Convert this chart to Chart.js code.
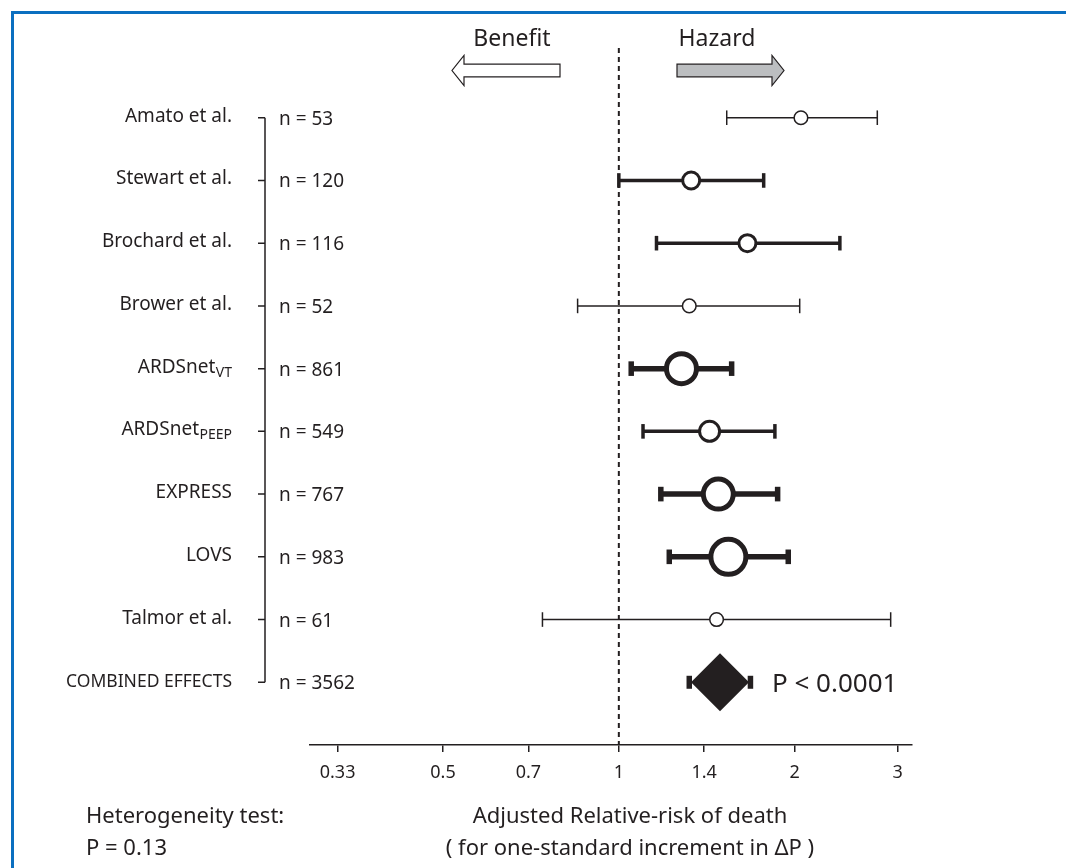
<!DOCTYPE html>
<html>
<head>
<meta charset="utf-8">
<script src="https://cdn.jsdelivr.net/npm/chart.js@4.4.1/dist/chart.umd.min.js"></script>
<style>
  html, body { margin: 0; padding: 0; background: #fff; }
  #wrap { width: 1066px; height: 868px; }
</style>
</head>
<body>
<div id="wrap"><canvas id="forestChart" width="1066" height="868"></canvas></div>
<script>
// study rows, top to bottom
const studies = ['Amato et al.', 'Stewart et al.', 'Brochard et al.', 'Brower et al.', 'ARDSnet', 'ARDSnet', 'EXPRESS', 'LOVS', 'Talmor et al.'];
const studySubs = ['', '', '', '', 'VT', 'PEEP', '', '', ''];
const sampleSizes = [53, 120, 116, 52, 861, 549, 767, 983, 61];
const riskEstimate = [2.05, 1.33, 1.66, 1.32, 1.28, 1.43, 1.48, 1.54, 1.47];
const ciLower = [1.53, 1.00, 1.16, 0.85, 1.05, 1.10, 1.18, 1.22, 0.74];
const ciUpper = [2.77, 1.77, 2.39, 2.04, 1.56, 1.85, 1.87, 1.95, 2.92];

// pooled result
const combinedLabel = 'COMBINED EFFECTS';
const combinedN = 3562;
const combinedEstimate = 1.49;
const combinedLower = 1.32;
const combinedUpper = 1.68;
const combinedP = 'P < 0.0001';

const tickValues = [0.33, 0.5, 0.7, 1, 1.4, 2, 3];
const nullEffect = 1;
const directionLabels = ['Benefit', 'Hazard'];
const heterogeneityText = ['Heterogeneity test:', 'P = 0.13'];
const axisTitle = ['Adjusted Relative-risk of death', '( for one-standard increment in \u0394P )'];

const INK = '#231f20';
const FONT = 'Noto Sans';

// marker weight grows with trial size
function styleFor(n) {
    if (n < 100) return { line: 1.5, radius: 6.8, border: 1.5 };
    if (n < 600) return { line: 3.5, radius: n > 500 ? 10 : 8.5, border: 3 };
    return { line: 5.5, radius: n > 900 ? 17.5 : 15, border: 5 };
}

const datasets = [];
studies.forEach((name, i) => {
    const s = styleFor(sampleSizes[i]);
    const row = i + 1;
    datasets.push({
        label: name + ' CI',
        data: [{ x: ciLower[i], y: row }, { x: ciUpper[i], y: row }],
        showLine: true,
        borderColor: INK,
        borderWidth: s.line,
        pointStyle: 'line',
        pointRotation: 90,
        pointRadius: 7.3,
        pointHoverRadius: 7.3,
        pointBorderWidth: s.line,
        pointBorderColor: INK,
        order: 2
    });
    datasets.push({
        label: name,
        data: [{ x: riskEstimate[i], y: row }],
        pointStyle: 'circle',
        pointRadius: s.radius,
        pointHoverRadius: s.radius,
        pointBorderWidth: s.border,
        pointBackgroundColor: '#fff',
        pointBorderColor: INK,
        order: 1
    });
});

const combinedRow = studies.length + 1;
datasets.push({
    label: 'Combined CI',
    data: [{ x: combinedLower, y: combinedRow }, { x: combinedUpper, y: combinedRow }],
    showLine: false,
    pointStyle: 'line',
    pointRotation: 90,
    pointRadius: 6.5,
    pointHoverRadius: 6.5,
    pointBorderWidth: 5.5,
    pointBorderColor: INK,
    order: 2
});
datasets.push({
    label: 'Combined',
    data: [{ x: combinedEstimate, y: combinedRow }],
    pointStyle: 'rectRot',
    pointRadius: 29,
    pointHoverRadius: 29,
    pointBorderWidth: 0,
    pointBackgroundColor: INK,
    pointBorderColor: INK,
    order: 0
});

function drawArrow(ctx, tail, tip, cy, fill) {
    const dir = Math.sign(tip - tail);
    const headBase = tip - dir * 12;
    ctx.save();
    ctx.beginPath();
    ctx.moveTo(tail, cy - 6.3);
    ctx.lineTo(headBase, cy - 6.3);
    ctx.lineTo(headBase, cy - 15);
    ctx.lineTo(tip, cy);
    ctx.lineTo(headBase, cy + 15);
    ctx.lineTo(headBase, cy + 6.3);
    ctx.lineTo(tail, cy + 6.3);
    ctx.closePath();
    ctx.fillStyle = fill;
    ctx.fill();
    ctx.lineWidth = 1.2;
    ctx.strokeStyle = INK;
    ctx.stroke();
    ctx.restore();
}

const forestDecor = {
    id: 'forestDecor',
    beforeDraw(chart) {
        const ctx = chart.ctx;
        ctx.save();
        ctx.fillStyle = '#fff';
        ctx.fillRect(0, 0, chart.width, chart.height);
        // frame
        ctx.fillStyle = '#0b6fc0';
        ctx.fillRect(11, 11, chart.width - 11, 3);
        ctx.fillRect(11, 11, 3, chart.height - 11);
        ctx.restore();
    },
    beforeDatasetsDraw(chart) {
        const ctx = chart.ctx;
        const x = chart.scales.x.getPixelForValue(nullEffect);
        ctx.save();
        ctx.strokeStyle = INK;
        ctx.lineWidth = 2;
        ctx.setLineDash([5, 4]);
        ctx.beginPath();
        ctx.moveTo(x, 48);
        ctx.lineTo(x, chart.chartArea.bottom);
        ctx.stroke();
        ctx.restore();
    },
    afterDraw(chart) {
        const ctx = chart.ctx;
        const yScale = chart.scales.y;
        ctx.save();
        ctx.fillStyle = INK;
        ctx.strokeStyle = INK;

        // study names
        ctx.textAlign = 'right';
        ctx.textBaseline = 'alphabetic';
        studies.forEach((name, i) => {
            const y = yScale.getPixelForValue(i + 1);
            let right = 232;
            if (studySubs[i]) {
                ctx.font = '14px "' + FONT + '"';
                ctx.fillText(studySubs[i], right, y + 8);
                right -= ctx.measureText(studySubs[i]).width + 0.5;
            }
            ctx.font = '19px "' + FONT + '"';
            ctx.fillText(name, right, y + 4);
        });
        const yc = yScale.getPixelForValue(combinedRow);
        ctx.font = '17.5px "' + FONT + '"';
        ctx.fillText(combinedLabel, 232, yc + 5);

        // bracket
        const yTop = yScale.getPixelForValue(1);
        ctx.lineWidth = 1.5;
        ctx.beginPath();
        ctx.moveTo(265, yTop);
        ctx.lineTo(265, yc);
        for (let r = 1; r <= combinedRow; r++) {
            const y = yScale.getPixelForValue(r);
            ctx.moveTo(258, y);
            ctx.lineTo(265, y);
        }
        ctx.stroke();

        // n labels
        ctx.textAlign = 'left';
        ctx.font = '19px "' + FONT + '"';
        sampleSizes.forEach((n, i) => {
            ctx.fillText('n = ' + n, 279, yScale.getPixelForValue(i + 1) + 7);
        });
        ctx.fillText('n = ' + combinedN, 279, yc + 7);

        // pooled p value
        ctx.font = '26px "' + FONT + '"';
        ctx.fillText(combinedP, 772, yc + 10);

        // direction arrows
        ctx.textAlign = 'center';
        ctx.font = '23px "' + FONT + '"';
        ctx.fillText(directionLabels[0], 512, 46);
        ctx.fillText(directionLabels[1], 717, 46);
        drawArrow(ctx, 560, 452, 70.5, '#fff');
        drawArrow(ctx, 677, 784, 70.5, '#bcbec0');

        // bottom notes
        ctx.fillStyle = INK;
        ctx.font = '22px "' + FONT + '"';
        ctx.fillText(axisTitle[0], 630, 823);
        ctx.fillText(axisTitle[1], 630, 855);
        ctx.textAlign = 'left';
        ctx.fillText(heterogeneityText[0], 86, 823);
        ctx.fillText(heterogeneityText[1], 86, 855);
        ctx.restore();
    }
};

const ctx = document.getElementById('forestChart').getContext('2d');
const chart = new Chart(ctx, {
    type: 'scatter',
    data: { datasets: datasets },
    options: {
        responsive: false,
        animation: false,
        layout: { padding: { left: 310, right: 154, top: 55, bottom: 73 } },
        plugins: { legend: { display: false }, tooltip: { enabled: false } },
        scales: {
            x: {
                type: 'logarithmic',
                min: 0.296,
                max: 3.176,
                afterBuildTicks: s => { s.ticks = tickValues.map(v => ({ value: v })); },
                afterFit: s => { s.height = 50; },
                border: { display: true, color: INK, width: 1.5 },
                grid: { drawOnChartArea: false, drawTicks: true, tickLength: 7, color: INK, lineWidth: 1.5 },
                ticks: {
                    autoSkip: false,
                    maxRotation: 0,
                    padding: 10,
                    color: INK,
                    font: { family: FONT, size: 18 },
                    callback: v => String(v)
                }
            },
            y: { type: 'linear', reverse: true, min: 0, max: 11, display: false }
        }
    },
    plugins: [forestDecor]
});
</script>
</body>
</html>
